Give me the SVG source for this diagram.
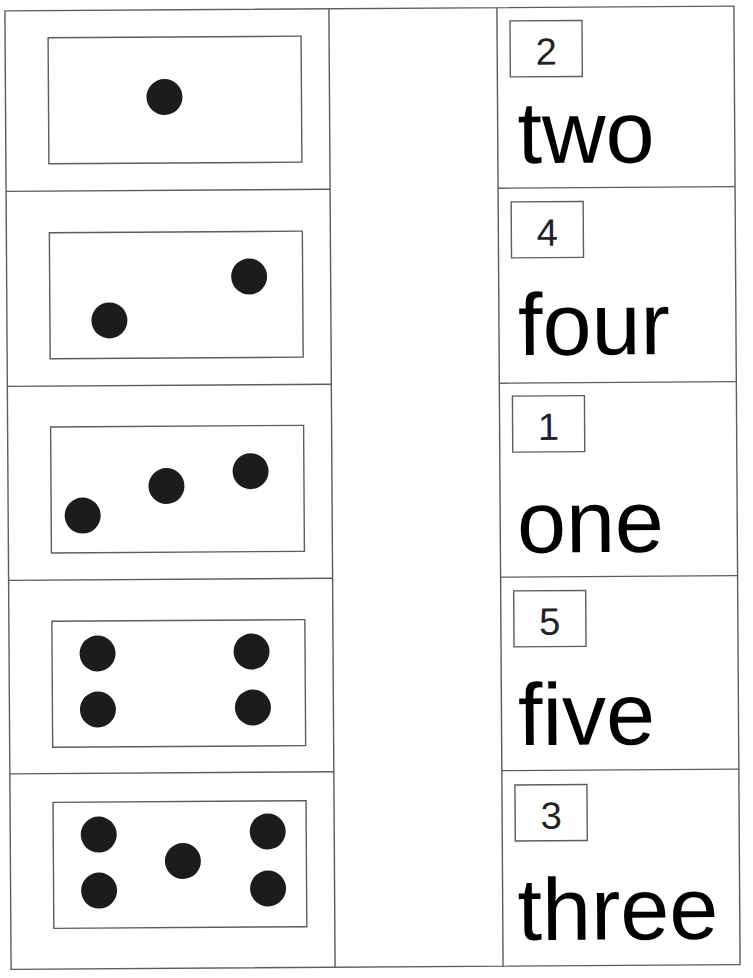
<svg xmlns="http://www.w3.org/2000/svg" width="753" height="978" viewBox="0 0 753 978">
<style>
.ln{stroke:#5c5c5c;stroke-width:1.4;fill:none}
.box{stroke:#5c5c5c;stroke-width:1.4;fill:#fff}
.dot{fill:#1c1c1c}
.num{font-family:"Liberation Sans",Arial,sans-serif;font-size:38px;fill:#222;text-anchor:middle}
.word{font-family:"Liberation Sans",Arial,sans-serif;font-size:88px;fill:#000}
</style>
<rect width="753" height="978" fill="#fff"/>
<g transform="rotate(-0.37 372 488)">
<g id="grid">
<rect class="ln" x="8" y="8.5" width="729" height="958.5"/>
<line class="ln" x1="332" y1="8.5" x2="332" y2="967"/>
<line class="ln" x1="500" y1="8.5" x2="500" y2="967"/>
<line class="ln" x1="8" y1="189" x2="332" y2="189"/>
<line class="ln" x1="8" y1="384" x2="332" y2="384"/>
<line class="ln" x1="8" y1="578" x2="332" y2="578"/>
<line class="ln" x1="8" y1="771.5" x2="332" y2="771.5"/>
<line class="ln" x1="500" y1="189" x2="737" y2="189"/>
<line class="ln" x1="500" y1="384" x2="737" y2="384"/>
<line class="ln" x1="500" y1="578" x2="737" y2="578"/>
<line class="ln" x1="500" y1="771.5" x2="737" y2="771.5"/>
</g>
<g id="dots1">
<rect class="box" x="51" y="35.7" width="253" height="126"/>
<circle class="dot" cx="167" cy="95.7" r="18"/>
</g>
<g id="dots2">
<rect class="box" x="51" y="230.7" width="253" height="126"/>
<circle class="dot" cx="250.5" cy="275.7" r="18"/>
<circle class="dot" cx="110.5" cy="318.7" r="18"/>
</g>
<g id="dots3">
<rect class="box" x="51" y="424.9" width="253" height="126"/>
<circle class="dot" cx="82.5" cy="513.7" r="18"/>
<circle class="dot" cx="166.5" cy="484.7" r="18"/>
<circle class="dot" cx="250.7" cy="470.4" r="18"/>
</g>
<g id="dots4">
<rect class="box" x="51" y="619.2" width="253" height="126"/>
<circle class="dot" cx="96.5" cy="651.7" r="18"/>
<circle class="dot" cx="250.5" cy="650.7" r="18"/>
<circle class="dot" cx="96.5" cy="707.7" r="18"/>
<circle class="dot" cx="251.5" cy="706.7" r="18"/>
</g>
<g id="dots5">
<rect class="box" x="51" y="800.3" width="253" height="126"/>
<circle class="dot" cx="96.5" cy="832.8" r="18"/>
<circle class="dot" cx="265.5" cy="830.8" r="18"/>
<circle class="dot" cx="180.5" cy="859.8" r="18"/>
<circle class="dot" cx="96.5" cy="888.8" r="18"/>
<circle class="dot" cx="265.5" cy="887.8" r="18"/>
</g>
<g id="word1">
<rect class="box" x="513" y="21.8" width="72" height="56"/>
<text class="num" x="549" y="65.8">2</text>
<text class="word" x="519.9" y="164.2">two</text>
</g>
<g id="word2">
<rect class="box" x="513" y="202.8" width="72" height="56"/>
<text class="num" x="549" y="246.8">4</text>
<text class="word" x="519.2" y="356">four</text>
</g>
<g id="word3">
<rect class="box" x="513" y="397" width="72" height="56"/>
<text class="num" x="549" y="441">1</text>
<text class="word" x="516.8" y="553.6">one</text>
</g>
<g id="word4">
<rect class="box" x="513" y="591.8" width="72" height="56"/>
<text class="num" x="549" y="635.8">5</text>
<text class="word" x="516.6" y="746">five</text>
</g>
<g id="word5">
<rect class="box" x="513" y="785.9" width="72" height="56"/>
<text class="num" x="549" y="829.9">3</text>
<text class="word" x="514.9" y="941">three</text>
</g>
<g id="connectors"></g>
</g>
</svg>
